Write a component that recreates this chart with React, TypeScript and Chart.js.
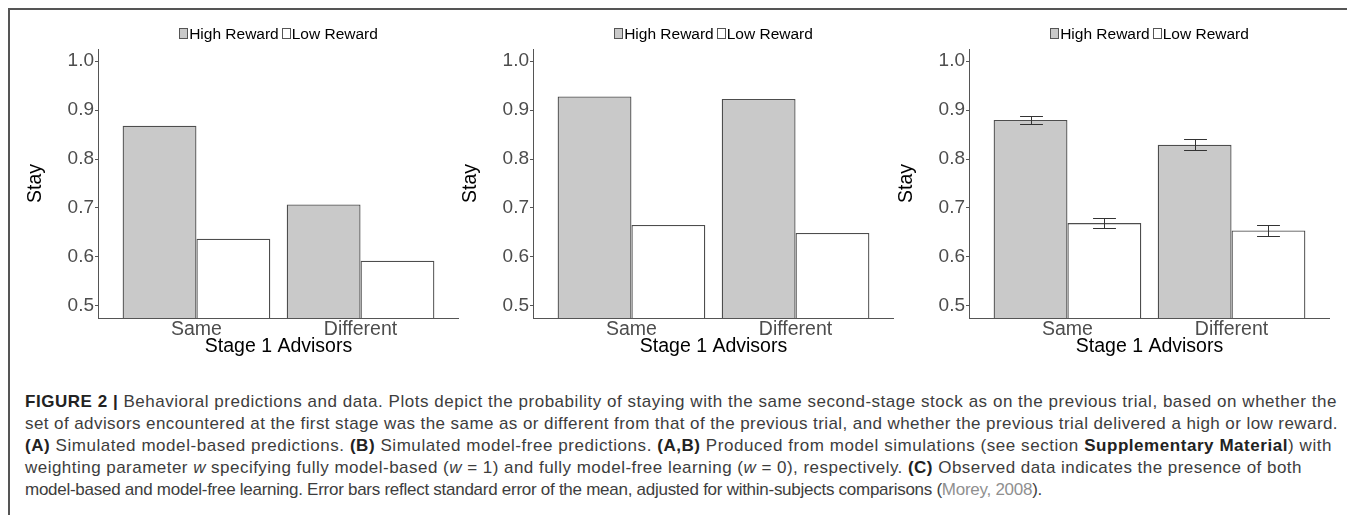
import React, { useEffect, useLayoutEffect, useRef } from 'react';
import { Chart, registerables } from 'chart.js';

Chart.register(...registerables);

// ---------- data ----------
const categories = ['Same', 'Different'];
const seriesLabels = ['High Reward', 'Low Reward'];
const yTicks = [0.5, 0.6, 0.7, 0.8, 0.9, 1.0];

const modelBasedHigh = [0.868, 0.707];
const modelBasedLow = [0.637, 0.592];

const modelFreeHigh = [0.928, 0.923];
const modelFreeLow = [0.665, 0.649];

const observedHigh = [0.88, 0.829];
const observedLow = [0.669, 0.654];
const observedHighSE = [0.0085, 0.0112];
const observedLowSE = [0.0105, 0.0106];

// ---------- styles ----------
const FONT = "'Liberation Sans', Arial, Helvetica, sans-serif";
const HIGH_FILL = '#c9c9c9';
const LOW_FILL = '#ffffff';
const EDGE = '#555555';
const BAR_EDGE = '#4d4d4d';
const TICK_TEXT = '#4d4d4d';

const panels = [
  { high: modelBasedHigh, low: modelBasedLow, highErr: null as number[] | null, lowErr: null as number[] | null, left: 15 },
  { high: modelFreeHigh, low: modelFreeLow, highErr: null as number[] | null, lowErr: null as number[] | null, left: 450 },
  { high: observedHigh, low: observedLow, highErr: observedHighSE, lowErr: observedLowSE, left: 886 },
];

const legendPlugin = {
  id: 'topLegend',
  afterDraw(chart: any) {
    const { ctx, chartArea } = chart;
    ctx.save();
    ctx.font = `15.5px ${FONT}`;
    const boxW = 9;
    const boxH = 11;
    const gapText = 1;
    const gapItem = 3;
    const items = chart.data.datasets.map((ds: any) => ({
      text: ds.label,
      fill: ds.backgroundColor,
      w: ctx.measureText(ds.label).width,
    }));
    const total = items.reduce(
      (s: number, it: any, i: number) => s + boxW + gapText + it.w + (i ? gapItem : 0),
      0
    );
    let x = (chartArea.left + chartArea.right) / 2 - total / 2;
    const boxTop = chartArea.top - 21;
    const baseline = chartArea.top - 9.6;
    items.forEach((it: any, i: number) => {
      if (i) x += gapItem;
      ctx.fillStyle = it.fill;
      ctx.fillRect(Math.round(x), boxTop, boxW, boxH);
      ctx.strokeStyle = EDGE;
      ctx.lineWidth = 1;
      ctx.strokeRect(Math.round(x) + 0.5, boxTop + 0.5, boxW - 1, boxH - 1);
      x += boxW + gapText;
      ctx.fillStyle = '#000';
      ctx.textBaseline = 'alphabetic';
      ctx.textAlign = 'left';
      ctx.fillText(it.text, x, baseline);
      x += it.w;
    });
    ctx.restore();
  },
};

const errorBarPlugin = {
  id: 'errorBars',
  afterDatasetsDraw(chart: any) {
    const { ctx } = chart;
    const yScale = chart.scales.y;
    ctx.save();
    ctx.strokeStyle = '#333';
    ctx.lineWidth = 1;
    chart.data.datasets.forEach((ds: any, d: number) => {
      if (!ds.errors) return;
      const meta = chart.getDatasetMeta(d);
      meta.data.forEach((bar: any, i: number) => {
        const v = ds.data[i].y;
        const e = ds.errors[i];
        const x = Math.round(bar.x) + 0.5;
        const half = bar.width * 0.155;
        const yt = Math.round(yScale.getPixelForValue(v + e)) + 0.5;
        const yb = Math.round(yScale.getPixelForValue(v - e)) + 0.5;
        ctx.beginPath();
        ctx.moveTo(x, yt);
        ctx.lineTo(x, yb);
        ctx.moveTo(x - half, yt);
        ctx.lineTo(x + half, yt);
        ctx.moveTo(x - half, yb);
        ctx.lineTo(x + half, yb);
        ctx.stroke();
      });
    });
    ctx.restore();
  },
};

function Panel({ panel }: { panel: (typeof panels)[number] }) {
  const ref = useRef<HTMLCanvasElement | null>(null);
  useEffect(() => {
    if (!ref.current) return;
    const toPoints = (arr: number[]) => arr.map((v, i) => ({ x: i + 1, y: v }));
    const chart = new Chart(ref.current, {
      type: 'bar',
      data: {
        datasets: [
          {
            label: seriesLabels[0],
            data: toPoints(panel.high),
            backgroundColor: HIGH_FILL,
            borderColor: BAR_EDGE,
            borderWidth: 1.3,
            errors: panel.highErr,
          } as any,
          {
            label: seriesLabels[1],
            data: toPoints(panel.low),
            backgroundColor: LOW_FILL,
            borderColor: BAR_EDGE,
            borderWidth: 1.3,
            errors: panel.lowErr,
          } as any,
        ],
      },
      options: {
        responsive: false,
        animation: false,
        layout: { padding: { top: 41, left: 0, right: 0, bottom: 0 } },
        datasets: { bar: { categoryPercentage: 0.9, barPercentage: 1, grouped: true } } as any,
        plugins: { legend: { display: false }, tooltip: { enabled: false } },
        scales: {
          x: {
            type: 'linear',
            min: 0.4,
            max: 2.6,
            offset: false,
            afterBuildTicks: (s: any) => {
              s.ticks = categories.map((_, i) => ({ value: i + 1 }));
            },
            afterFit: (s: any) => {
              s.height = 40;
            },
            grid: { display: false, drawTicks: false, offset: false },
            border: { display: true, color: EDGE, width: 1 },
            ticks: {
              color: TICK_TEXT,
              font: { size: 19.5, family: FONT, lineHeight: 1 },
              padding: 2,
              autoSkip: false,
              maxRotation: 0,
              callback: (v: any) => categories[Math.round(Number(v)) - 1] ?? '',
            },
            title: {
              display: true,
              text: 'Stage 1 Advisors',
              color: '#000',
              font: { size: 19.5, family: FONT, lineHeight: 1.2 },
              padding: 0,
            },
          },
          y: {
            min: 0.475,
            max: 1.025,
            afterBuildTicks: (s: any) => {
              s.ticks = yTicks.map((v) => ({ value: v }));
            },
            afterFit: (s: any) => {
              s.width = 75;
            },
            grid: {
              display: true,
              drawOnChartArea: false,
              drawTicks: true,
              tickLength: 3,
              color: EDGE,
              lineWidth: 1,
            },
            border: { display: true, color: EDGE, width: 1 },
            ticks: {
              color: TICK_TEXT,
              font: { size: 19, family: FONT },
              padding: 1,
              callback: (v: any) => Number(v).toFixed(1),
            },
            title: {
              display: true,
              text: 'Stay',
              color: '#000',
              font: { size: 19.5, family: FONT, lineHeight: 1.2 },
              padding: { top: 1, bottom: 0 },
            },
          },
        } as any,
      },
      plugins: [legendPlugin, errorBarPlugin],
    });
    return () => chart.destroy();
  }, [panel]);
  return (
    <canvas
      ref={ref}
      width={436}
      height={350}
      style={{ position: 'absolute', left: panel.left, top: 0, width: 436, height: 350 }}
    />
  );
}

type Seg = [string, string];
const captionLines: Seg[][] = [
  [
    ['b', 'FIGURE 2 | '],
    ['', 'Behavioral predictions and data. Plots depict the probability of staying with the same second-stage stock as on the previous trial, based on whether the'],
  ],
  [
    ['', 'set of advisors encountered at the first stage was the same as or different from that of the previous trial, and whether the previous trial delivered a high or low reward.'],
  ],
  [
    ['b', '(A)'],
    ['', ' Simulated model-based predictions. '],
    ['b', '(B)'],
    ['', ' Simulated model-free predictions. '],
    ['b', '(A,B)'],
    ['', ' Produced from model simulations (see section '],
    ['b', 'Supplementary Material'],
    ['', ') with'],
  ],
  [
    ['', 'weighting parameter '],
    ['i', 'w'],
    ['', ' specifying fully model-based ('],
    ['i', 'w'],
    ['', ' = 1) and fully model-free learning ('],
    ['i', 'w'],
    ['', ' = 0), respectively. '],
    ['b', '(C)'],
    ['', ' Observed data indicates the presence of both'],
  ],
  [
    ['', 'model-based and model-free learning. Error bars reflect standard error of the mean, adjusted for within-subjects comparisons ('],
    ['l', 'Morey, 2008'],
    ['', ').'],
  ],
];
const lineWidths = [1312, 1313, 1307, 1277, 1017];

function Caption() {
  const refs = useRef<(HTMLSpanElement | null)[]>([]);
  useLayoutEffect(() => {
    refs.current.forEach((el, i) => {
      if (!el) return;
      el.style.letterSpacing = '0px';
      const w = el.getBoundingClientRect().width;
      const n = (el.textContent || '').length;
      const ls = Math.max(-1, Math.min(2, (lineWidths[i] - w) / n));
      el.style.letterSpacing = `${ls}px`;
    });
  }, []);
  return (
    <div
      style={{
        position: 'absolute',
        left: 17,
        top: 383,
        fontFamily: FONT,
        fontSize: 17,
        lineHeight: '22px',
        color: '#3d3d3d',
      }}
    >
      {captionLines.map((line, li) => (
        <div key={li} style={{ whiteSpace: 'nowrap', height: 22 }}>
          <span
            ref={(el) => {
              refs.current[li] = el;
            }}
            style={{ display: 'inline-block' }}
          >
            {line.map(([k, t], si) => (
              <span
                key={si}
                style={{
                  fontWeight: k === 'b' ? 700 : 400,
                  fontStyle: k === 'i' ? 'italic' : 'normal',
                  color: k === 'l' ? '#8f8f8f' : k === 'b' ? '#222' : undefined,
                }}
              >
                {t}
              </span>
            ))}
          </span>
        </div>
      ))}
    </div>
  );
}

export default function App() {
  useEffect(() => {
    document.documentElement.style.overflow = 'hidden';
  }, []);
  return (
    <div style={{ position: 'relative', width: 1347, height: 507, background: '#fff' }}>
      <div
        style={{
          position: 'absolute',
          left: 0,
          top: 0,
          width: 1347,
          height: 515,
          borderTop: '2px solid #555',
          borderLeft: '2px solid #555',
          boxSizing: 'border-box',
          pointerEvents: 'none',
        }}
      />
      {panels.map((p, i) => (
        <Panel key={i} panel={p} />
      ))}
      <Caption />
    </div>
  );
}
